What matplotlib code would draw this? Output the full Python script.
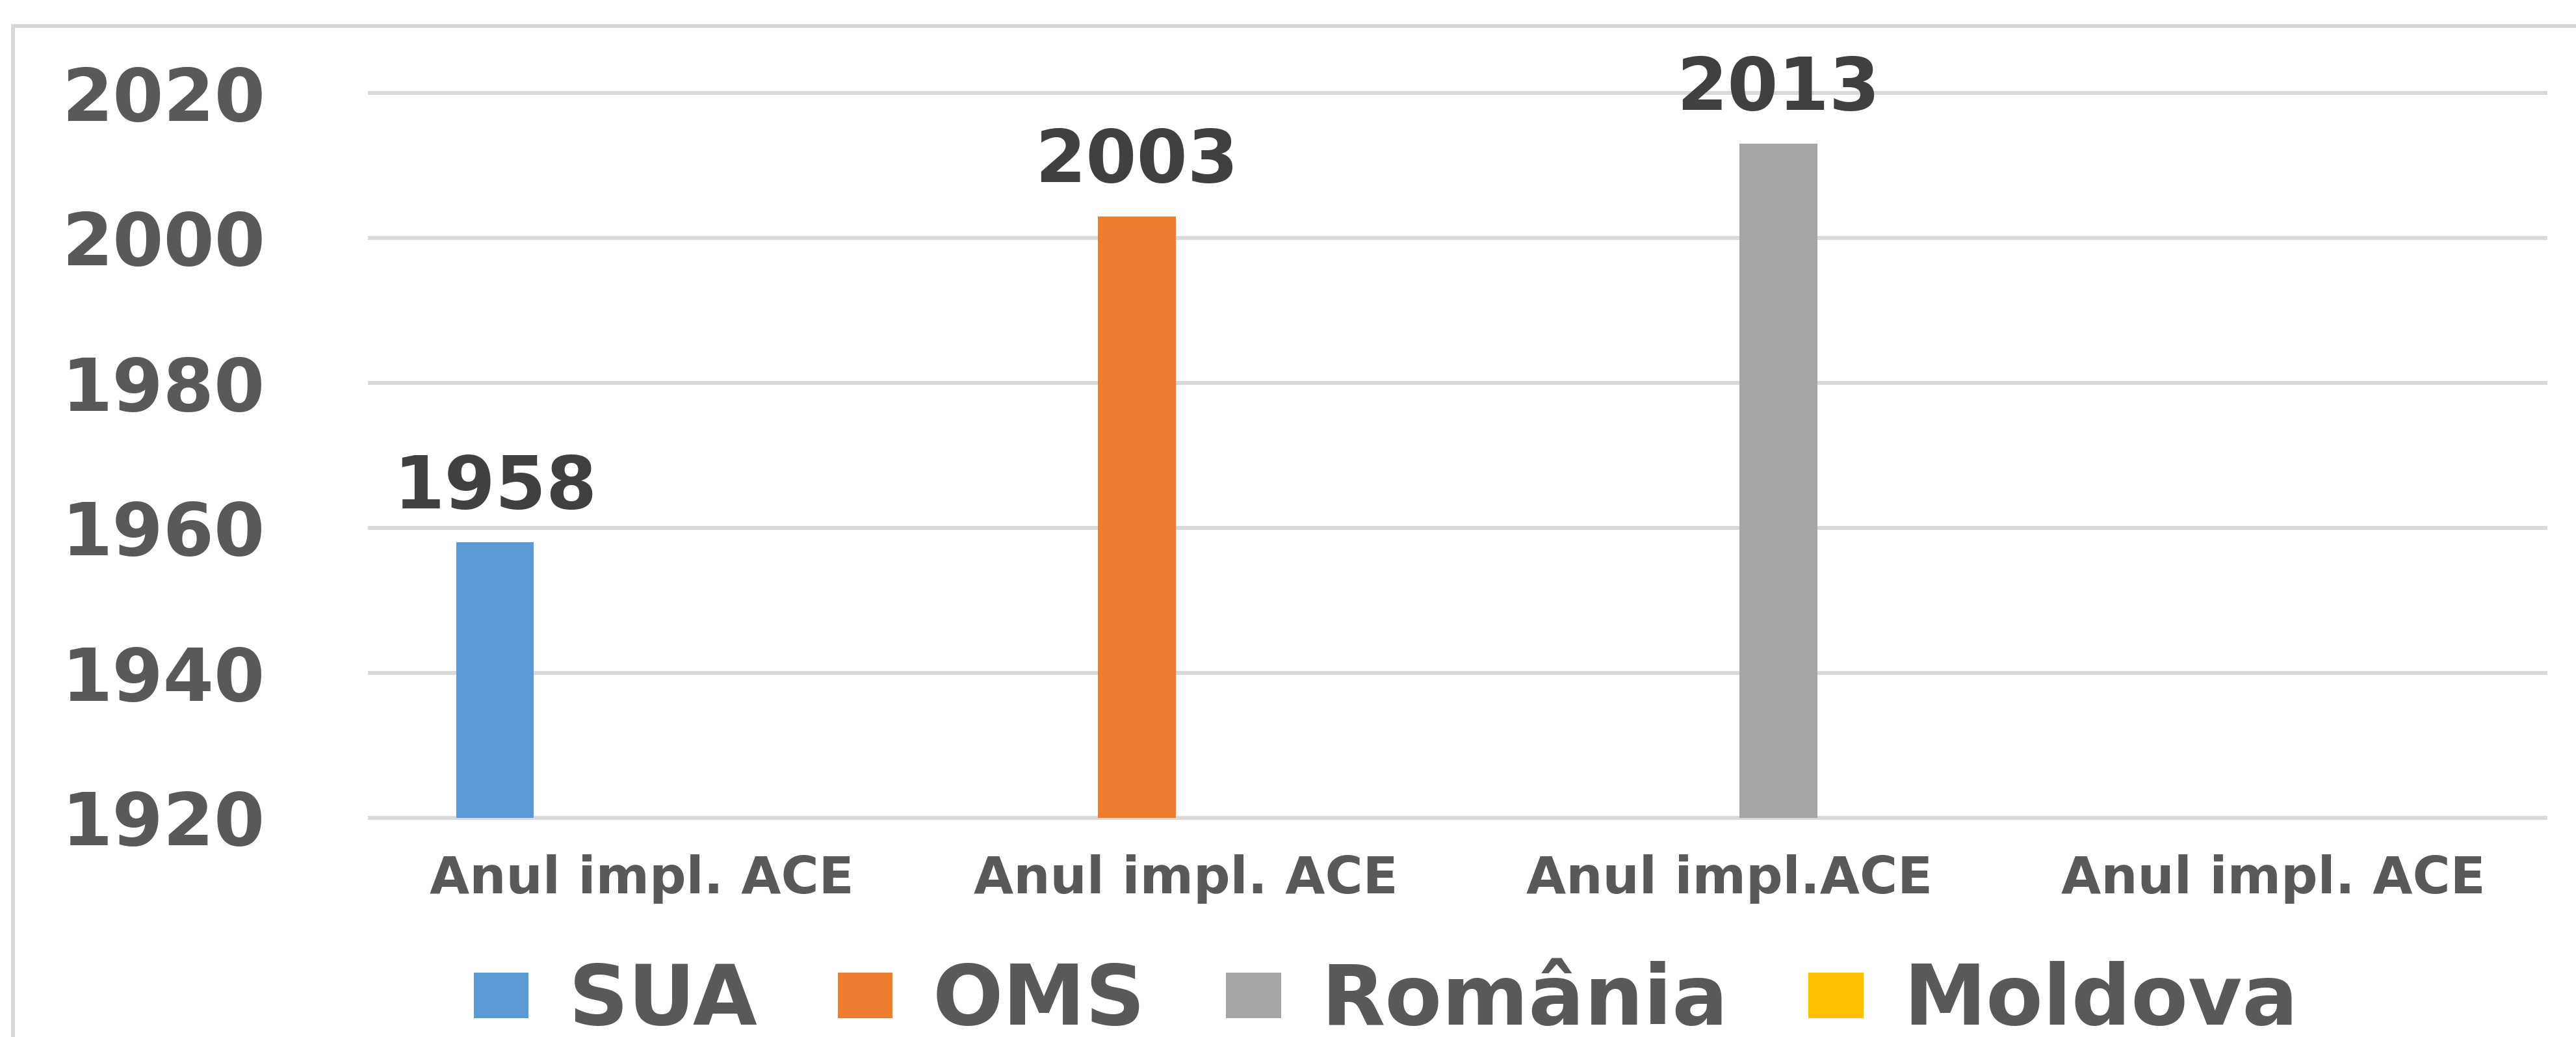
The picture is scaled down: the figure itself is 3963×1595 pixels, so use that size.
import numpy as np
import matplotlib
matplotlib.use("Agg")
import matplotlib.pyplot as plt
from matplotlib.lines import Line2D

# chart data
categories = ["Anul impl. ACE", "Anul impl. ACE", "Anul impl.ACE", "Anul impl. ACE"]
series_names = ["SUA", "OMS", "România", "Moldova"]
series_values = [
    [1958, np.nan, np.nan, np.nan],
    [np.nan, 2003, np.nan, np.nan],
    [np.nan, np.nan, 2013, np.nan],
    [np.nan, np.nan, np.nan, np.nan],
]
colors = ["#5B9BD5", "#ED7D31", "#A5A5A5", "#FFC000"]
y_ticks = [1920, 1940, 1960, 1980, 2000, 2020]

DPI = 100
fig = plt.figure(figsize=(3963 / DPI, 1595 / DPI), dpi=DPI)
fig.patch.set_facecolor("white")

left, right, top, bottom = 569, 3916, 143, 1258
ax = fig.add_axes([left / 3963, 1 - bottom / 1595,
                   (right - left) / 3963, (bottom - top) / 1595])

x = np.arange(len(categories))
bar_w = 0.143
step = 0.18
containers = []
for j, (name, vals) in enumerate(zip(series_names, series_values)):
    c = ax.bar(x + (j - 1.5) * step, vals, width=bar_w, color=colors[j],
               label=name, zorder=3)
    containers.append(c)
    for xi, v in zip(x, vals):
        if not np.isnan(v):
            ax.annotate(f"{v:.0f}", (xi + (j - 1.5) * step, v),
                        xytext=(0, 21), textcoords="offset points",
                        ha="center", va="bottom", fontsize=81,
                        fontweight="bold", color="#404040", zorder=4)

ax.set_xlim(-0.5, len(categories) - 0.5)
ax.set_ylim(1920, 2020)
ax.set_yticks(y_ticks)
ax.set_xticks(x)
ax.set_xticklabels(categories)

for s in ax.spines.values():
    s.set_visible(False)

ax.tick_params(axis="y", length=0, pad=116, labelsize=81, labelcolor="#595959")
ax.tick_params(axis="x", length=0, pad=40, labelsize=57, labelcolor="#595959")
for lab in ax.get_yticklabels() + ax.get_xticklabels():
    lab.set_fontweight("bold")

ax.yaxis.grid(True, color="#D9D9D9", linewidth=4.3, zorder=0)
ax.set_axisbelow(True)
for gl in ax.get_ygridlines():
    gl.set_clip_on(False)

# chart area border (top and left visible)
border_kw = dict(color="#D9D9D9", linewidth=4.3, transform=fig.transFigure)
fig.add_artist(Line2D([20 / 3963, 20 / 3963], [0, 1 - 40 / 1595], **border_kw))
fig.add_artist(Line2D([20 / 3963, 1], [1 - 40 / 1595, 1 - 40 / 1595], **border_kw))

leg = fig.legend(handles=containers, labels=series_names, loc="center",
                 bbox_to_anchor=(0.538, 0.034), ncol=4, frameon=False,
                 prop={"weight": "bold", "size": 92},
                 handlelength=0.66, handleheight=0.47, handletextpad=0.48,
                 columnspacing=0.97, borderpad=0.1)
for t in leg.get_texts():
    t.set_color("#595959")

fig.savefig("out.png", dpi=DPI, facecolor="white")
